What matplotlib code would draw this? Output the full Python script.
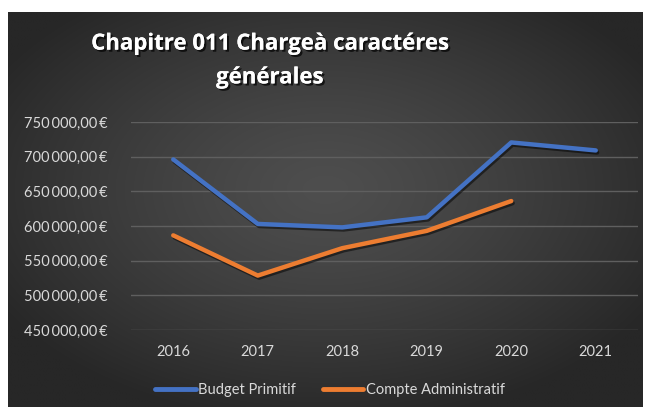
import numpy as np
import matplotlib
matplotlib.use("Agg")
import matplotlib.pyplot as plt
import matplotlib.patheffects as pe
from matplotlib.ticker import FuncFormatter

years = ["2016", "2017", "2018", "2019", "2020", "2021"]
budget_primitif = [696000, 603000, 598000, 612500, 720500, 709000]
compte_admin = [586500, 528500, 568000, 593000, 636000]
title = "Chapitre 011 Chargeà caractéres\ngénérales"
y_ticks = [450000, 500000, 550000, 600000, 650000, 700000, 750000]

W, H = 646, 407
fig = plt.figure(figsize=(W / 100, H / 100), dpi=100)
fig.patch.set_facecolor("white")

# background panel with radial gradient
bx0, by0, bx1, by1 = 8, 12, 643, 407
bg = fig.add_axes([bx0 / W, 1 - by1 / H, (bx1 - bx0) / W, (by1 - by0) / H])
gx, gy = np.meshgrid(np.linspace(-1, 1, 400), np.linspace(-1, 1, 260))
r = np.sqrt((gx / 1.0) ** 2 + ((gy + 0.1) / 1.0) ** 2)
r = np.clip(r / 1.2, 0, 1)
c0, c1 = 0x4e / 255, 0x27 / 255
val = c0 + (c1 - c0) * r ** 1.3
img = np.dstack([val, val, val])
bg.imshow(img, aspect="auto", extent=[0, 1, 0, 1], interpolation="bilinear")
bg.set_axis_off()

# plot area
px0, py0, px1, py1 = 131, 122, 638, 330
ax = fig.add_axes([px0 / W, 1 - py1 / H, (px1 - px0) / W, (py1 - py0) / H])
ax.set_facecolor("none")
x = np.arange(len(years))
ax.plot(x, budget_primitif, color="#4472C4", lw=3.2, solid_capstyle="round",
        solid_joinstyle="round", label="Budget Primitif",
        path_effects=[pe.SimpleLineShadow(offset=(1, -1.5), alpha=0.5), pe.Normal()])
ax.plot(x[:len(compte_admin)], compte_admin, color="#ED7D31", lw=3.2, solid_capstyle="round",
        solid_joinstyle="round", label="Compte Administratif",
        path_effects=[pe.SimpleLineShadow(offset=(1, -1.5), alpha=0.5), pe.Normal()])
ax.set_xlim(-0.5, len(years) - 0.5)
ax.set_ylim(450000, 750000)
ax.set_yticks(y_ticks)
ax.yaxis.grid(True, color="#5f5f5f", lw=1)
ax.set_axisbelow(True)
ax.yaxis.set_major_formatter(FuncFormatter(lambda v, p: f"{int(v):,}".replace(",", "\u2009") + ",00\u2009€"))
ax.set_xticks(x)
ax.set_xticklabels(years)
for s in ax.spines.values():
    s.set_visible(False)
ax.tick_params(axis="both", length=0, colors="#d9d9d9", labelsize=10.5)
ax.tick_params(axis="y", pad=17)
ax.tick_params(axis="x", pad=11)
for lab in ax.get_xticklabels() + ax.get_yticklabels():
    lab.set_family(["Lato", "DejaVu Sans"])

leg = ax.legend(loc="center", bbox_to_anchor=(330 / W, 1 - 390 / H),
                bbox_transform=fig.transFigure, ncol=2, frameon=False,
                handlelength=2.8, handletextpad=0.15, columnspacing=1.8,
                prop={"family": "Lato", "size": 10.5})
for t in leg.get_texts():
    t.set_color("#d9d9d9")
for h in leg.get_lines():
    h.set_linewidth(3.5)
    h.set_path_effects([])

fig.text(270 / W, 1 - 61 / H, title, ha="center", va="center", color="white",
         fontsize=16, fontweight="bold", family=["Open Sans", "DejaVu Sans"],
         linespacing=1.8,
         path_effects=[pe.withSimplePatchShadow(offset=(1.5, -1.5), shadow_rgbFace="black", alpha=0.7),
                       pe.Normal()])

fig.savefig("out.png", dpi=100, facecolor=fig.get_facecolor())
